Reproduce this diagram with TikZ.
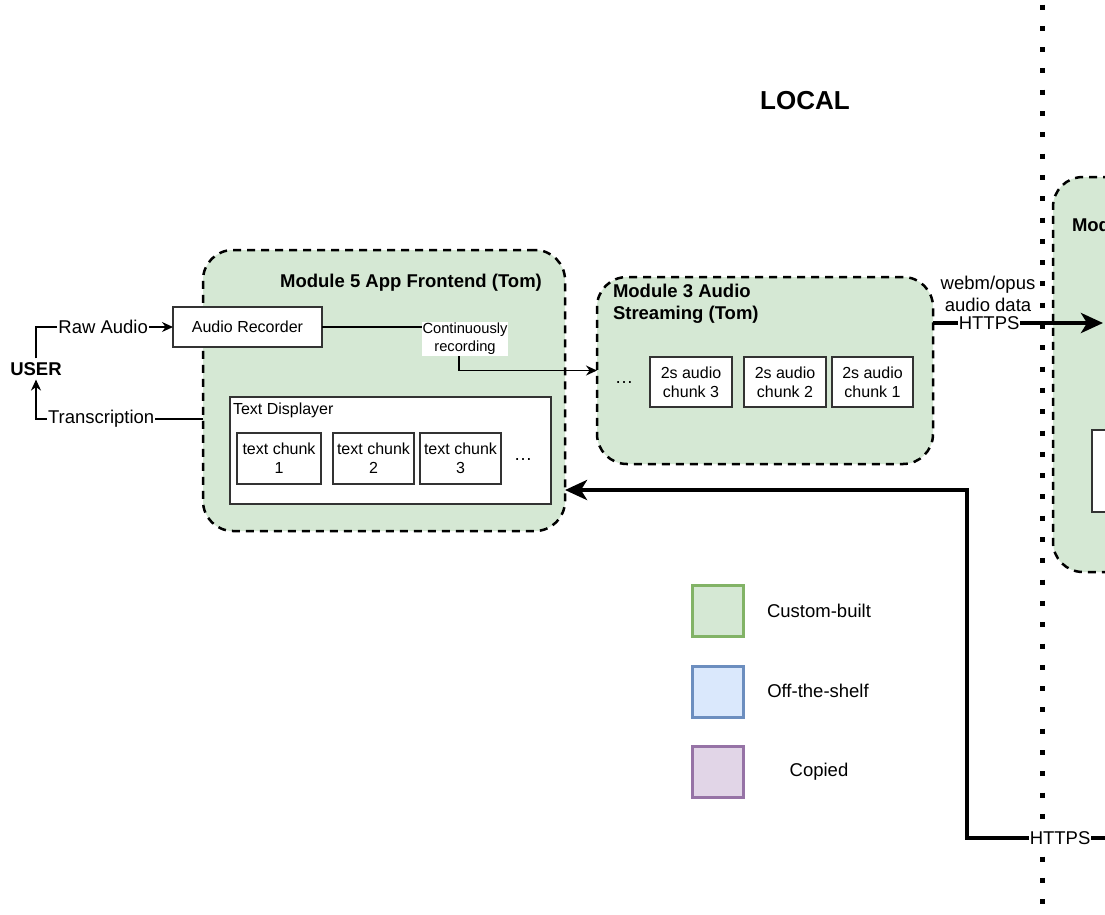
\documentclass[tikz,border=0pt]{standalone}
\usepackage{fontspec}
\setmainfont{Liberation Sans}
\usepackage{xcolor}
\usetikzlibrary{arrows.meta}

\definecolor{modgreen}{HTML}{D5E8D4}
\definecolor{customline}{HTML}{82B366}
\definecolor{shelffill}{HTML}{DAE8FC}
\definecolor{shelfline}{HTML}{6C8EBF}
\definecolor{copiedfill}{HTML}{E1D5E7}
\definecolor{copiedline}{HTML}{9673A6}

\begin{document}
\begin{tikzpicture}[x=1pt, y=-1pt,
    every node/.style={font=\fontsize{18.5}{22}\selectfont, inner sep=2pt, outer sep=0pt},
    module/.style={draw=black, fill=modgreen, line width=2.5pt, dash pattern=on 8pt off 6pt, rounded corners=30pt},
    modtitle/.style={font=\bfseries\fontsize{18.5}{22}\selectfont},
    box/.style={draw=black!80, fill=white, line width=1.2pt, font=\fontsize{16}{19}\selectfont, align=center},
    link/.style={line width=1.5pt, -{Stealth[length=11pt, width=10pt]}},
    bigarrow/.style={line width=4pt, -{Stealth[length=22pt, width=20pt, inset=6pt]}},
    swatch/.style={minimum size=54pt-\pgflinewidth, line width=3pt}]
    \useasboundingbox (0,0) rectangle (1105,914);
    \fill[white] (0,0) rectangle (1105,914);
    \clip (0,0) rectangle (1105,914);

    % Graphic area
    \node[font=\bfseries\fontsize{26}{30}\selectfont] (local) at (805,101) {LOCAL};
    \node[font=\bfseries\fontsize{18.5}{22}\selectfont, inner sep=4pt] (user) at (36,369) {USER};

    % Module 5
    \node[module, minimum width=362pt, minimum height=281pt] (frontend) at (384,390.5) {};
    \node[modtitle] (frontendtitle) at (411,283) {Module 5 App Frontend (Tom)};
    \node[box, minimum width=149pt, minimum height=40pt] (recorder) at (247.5,327) {Audio Recorder};
    \node[box, minimum width=321pt, minimum height=107pt] (displayer) at (390.5,450.5) {};
    \node[anchor=west, font=\fontsize{16}{19}\selectfont] (displayertitle) at (231,410) {Text Displayer};
    \node[box, minimum width=84pt, minimum height=51pt] (text1) at (279,458.5) {text chunk\\1};
    \node[box, minimum width=81pt, minimum height=51pt] (text2) at (373.5,458.5) {text chunk\\2};
    \node[box, minimum width=81pt, minimum height=51pt] (text3) at (460.5,458.5) {text chunk\\3};
    \node (textmore) at (523,459) {\ldots};

    % Module 3
    \node[module, minimum width=336pt, minimum height=187pt] (stream) at (765,370.5) {};
    \node[modtitle, anchor=north west, align=left] (streamtitle) at (611,282.5) {Module 3 Audio\\Streaming (Tom)};
    \node[box, minimum width=82pt, minimum height=50pt] (chunk3) at (691,382) {2s audio\\chunk 3};
    \node[box, minimum width=82pt, minimum height=50pt] (chunk2) at (785,382) {2s audio\\chunk 2};
    \node[box, minimum width=81pt, minimum height=50pt] (chunk1) at (872.5,382) {2s audio\\chunk 1};
    \node (chunkmore) at (624,383) {\ldots};

    % Server side
    \node[module, minimum width=200pt, minimum height=395pt] (server) at (1153,374.5) {};
    \node[modtitle, anchor=west] (servertitle) at (1070,225) {Module};
    \node[box, minimum width=100pt, minimum height=82pt] (serverbox) at (1142,471) {};

    % Separator
    \draw[line width=5pt, dash pattern=on 5pt off 16.3pt] (1042,4.5) -- (1042,914);

    % Connectors
    \draw[link] (user.north) |- (recorder.west)
        node[pos=0.745, fill=white, inner sep=1pt] (rawaudio) {Raw Audio};
    \coordinate (frontendport) at (203,419);
    \draw[link] (frontendport) -| (user.south)
        node[pos=0.305, fill=white, inner sep=1pt] (transcription) {Transcription};
    \coordinate (bend) at (459,370.5);
    \draw[link] (recorder.east) -| (bend) -- (stream.west);
    \node[fill=white, align=center, inner sep=1pt, font=\fontsize{14.7}{18}\selectfont] (recording) at (465,339) {Continuously\\recording};

    \coordinate (streamport) at (933,323);
    \coordinate (serverport) at (1103,323);
    \draw[bigarrow] (streamport) -- (serverport)
        node[pos=0.33, fill=white, inner sep=1pt] (https1) {HTTPS};
    \node[align=center] (payload) at (988,293.5) {webm/opus\\audio data};

    \coordinate (returnport) at (1108,838);
    \coordinate (frontendin) at (565,490);
    \draw[bigarrow] (returnport) -- node[pos=0.34, fill=white, inner sep=1pt] (https2) {HTTPS} (967,838) |- (frontendin);

    % Legend
    \node[swatch, draw=customline, fill=modgreen] (custom) at (717.5,611) {};
    \node (customlabel) at (819,611) {Custom-built};
    \node[swatch, draw=shelfline, fill=shelffill] (shelf) at (717.5,692) {};
    \node (shelflabel) at (818,691) {Off-the-shelf};
    \node[swatch, draw=copiedline, fill=copiedfill] (copied) at (717.5,772) {};
    \node (copiedlabel) at (819,772) {Copied};

\end{tikzpicture}
\end{document}
